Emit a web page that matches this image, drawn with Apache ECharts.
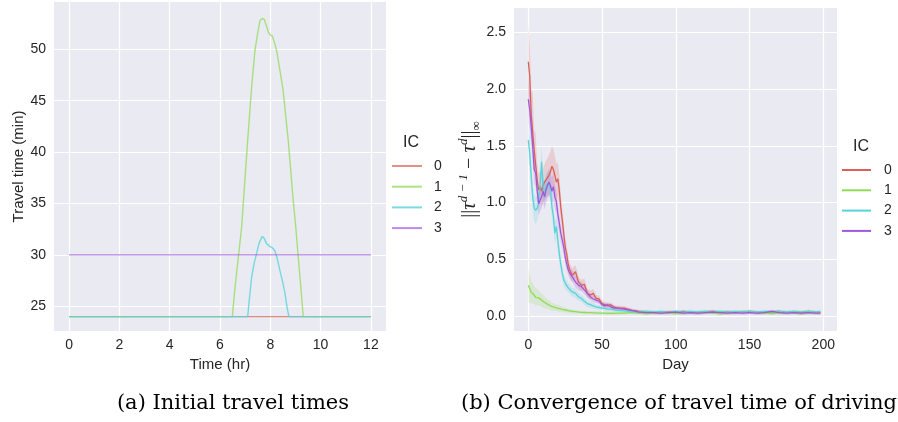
<!DOCTYPE html>
<html>
<head>
<meta charset="utf-8">
<script src="https://cdn.jsdelivr.net/npm/echarts@6/dist/echarts.min.js"></script>
<style>
html,body{margin:0;padding:0;background:#fff;}
#c{width:898px;height:422px;}
</style>
</head>
<body>
<div id="c"></div>
<script>
// ---------- Panel (a): initial travel times ----------
const icLabels = ['0', '1', '2', '3'];
const xTicksA = [0, 2, 4, 6, 8, 10, 12];
const yTicksA = [25, 30, 35, 40, 45, 50];

const ic0TimeA = [0, 12];
const ic0ValA = [24, 24];
const ic1TimeA = [0, 6.49, 6.60, 6.73, 6.86, 6.99, 7.12, 7.26, 7.39, 7.52, 7.59, 7.68, 7.76, 7.83, 7.92, 7.99, 8.08, 8.16, 8.25, 8.38, 8.51, 8.61, 8.71, 8.81, 8.91, 9.01, 9.11, 9.21, 9.31, 12];
const ic1ValA  = [24, 24, 26.9, 29.8, 32.7, 37.3, 41.8, 46.4, 49.9, 51.9, 52.8, 53.0, 52.9, 52.4, 51.7, 51.4, 51.3, 50.7, 49.9, 48.0, 46.0, 43.6, 41.2, 38.3, 35.3, 32.8, 29.8, 27.0, 24, 24];
const ic2TimeA = [0, 7.10, 7.18, 7.26, 7.36, 7.46, 7.56, 7.68, 7.76, 7.85, 7.99, 8.08, 8.18, 8.28, 8.38, 8.48, 8.58, 8.66, 8.74, 12];
const ic2ValA  = [24, 24, 26.0, 27.9, 29.2, 30.2, 31.2, 31.8, 31.6, 31.1, 30.8, 30.7, 30.4, 29.6, 28.5, 27.5, 26.3, 25.0, 24, 24];
const ic3TimeA = [0, 12];
const ic3ValA = [30, 30];

// ---------- Panel (b): convergence ----------
const xTicksB = [0, 50, 100, 150, 200];
const yTicksB = [0, 0.5, 1.0, 1.5, 2.0, 2.5];
const days = [0,1,2,3,4,5,6,7,8,9,10,11,12,13,14,15,16,17,18,19,20,21,22,23,24,25,26,27,28,29,30,
  32,34,36,38,40,42,44,46,48,50,52,54,56,58,60,
  65,70,75,80,85,90,95,100,105,110,115,120,125,130,135,140,145,150,155,160,165,170,175,180,185,190,195,198];

const ic0Mean = [2.24,2.11,1.77,1.77,1.46,1.45,1.20,1.11,1.14,1.10,1.15,1.18,1.20,1.22,1.24,1.27,1.32,1.29,1.24,1.18,1.21,1.11,0.96,0.85,0.73,0.61,0.55,0.46,0.41,0.38,0.36,
  0.39,0.30,0.27,0.28,0.20,0.185,0.20,0.155,0.15,0.11,0.10,0.09,0.10,0.08,0.07,
  0.07,0.05,0.04,0.035,0.03,0.03,0.035,0.03,0.04,0.03,0.03,0.035,0.04,0.03,0.035,0.03,0.035,0.04,0.03,0.03,0.035,0.04,0.03,0.035,0.03,0.04,0.03,0.03];
const ic1Mean = [0.27,0.24,0.21,0.20,0.185,0.165,0.17,0.16,0.15,0.14,0.13,0.12,0.11,0.105,0.10,0.09,0.08,0.08,0.076,0.072,0.07,0.065,0.06,0.058,0.055,0.053,0.05,0.047,0.044,0.042,0.04,
  0.038,0.035,0.032,0.031,0.03,0.03,0.028,0.027,0.026,0.025,0.025,0.024,0.025,0.024,0.025,
  0.025,0.03,0.025,0.02,0.025,0.03,0.025,0.02,0.025,0.03,0.025,0.03,0.025,0.02,0.025,0.03,0.035,0.04,0.03,0.025,0.02,0.025,0.03,0.025,0.02,0.025,0.03,0.025];
const ic2Mean = [1.55,1.43,1.23,1.05,0.95,0.93,0.95,0.99,1.14,1.36,1.14,1.08,1.15,1.17,1.18,1.12,0.96,0.88,0.73,0.79,0.67,0.55,0.46,0.38,0.32,0.29,0.27,0.25,0.24,0.22,0.21,
  0.20,0.17,0.155,0.13,0.11,0.10,0.09,0.08,0.075,0.07,0.065,0.06,0.06,0.055,0.05,
  0.045,0.04,0.035,0.04,0.035,0.04,0.03,0.04,0.035,0.04,0.035,0.04,0.035,0.04,0.035,0.04,0.035,0.04,0.035,0.04,0.035,0.04,0.035,0.04,0.035,0.04,0.035,0.04];
const ic3Mean = [1.91,1.81,1.67,1.49,1.29,1.26,1.11,0.99,1.02,1.05,1.10,1.05,1.11,1.15,1.18,1.15,1.10,1.14,1.05,1.01,0.90,0.82,0.73,0.67,0.61,0.52,0.46,0.41,0.38,0.36,0.35,
  0.30,0.27,0.26,0.23,0.20,0.17,0.15,0.14,0.13,0.10,0.09,0.10,0.08,0.07,0.07,
  0.06,0.05,0.035,0.03,0.03,0.025,0.03,0.035,0.025,0.03,0.025,0.03,0.035,0.03,0.025,0.03,0.025,0.03,0.025,0.03,0.04,0.03,0.025,0.03,0.025,0.03,0.025,0.025];

// confidence half-widths
const ic0Ci = [0.34,0.28,0.22,0.20,0.18,0.16,0.15,0.14,0.14,0.14,0.15,0.16,0.17,0.17,0.18,0.18,0.18,0.18,0.17,0.16,0.15,0.14,0.12,0.10,0.09,0.08,0.07,0.07,0.06,0.06,0.06,
  0.06,0.05,0.05,0.05,0.04,0.04,0.04,0.03,0.03,0.03,0.025,0.025,0.02,0.02,0.02,
  0.018,0.016,0.015,0.015,0.015,0.015,0.015,0.015,0.015,0.015,0.015,0.015,0.015,0.015,0.015,0.015,0.015,0.015,0.015,0.015,0.015,0.015,0.015,0.015,0.015,0.015,0.015,0.015];
const ic1Ci = [0.15,0.12,0.10,0.09,0.08,0.08,0.07,0.07,0.06,0.06,0.06,0.05,0.05,0.04,0.04,0.04,0.035,0.035,0.03,0.03,0.03,0.03,0.025,0.025,0.025,0.02,0.02,0.02,0.02,0.02,0.02,
  0.015,0.015,0.015,0.015,0.015,0.015,0.015,0.015,0.015,0.015,0.015,0.015,0.015,0.015,0.015,
  0.012,0.012,0.012,0.012,0.012,0.012,0.012,0.012,0.012,0.012,0.012,0.012,0.012,0.012,0.012,0.012,0.012,0.012,0.012,0.012,0.012,0.012,0.012,0.012,0.012,0.012,0.012,0.012];
const ic2Ci = [0.16,0.14,0.12,0.12,0.12,0.12,0.11,0.10,0.12,0.14,0.12,0.11,0.10,0.10,0.10,0.10,0.10,0.10,0.10,0.09,0.09,0.08,0.07,0.06,0.05,0.05,0.05,0.04,0.04,0.04,0.04,
  0.04,0.035,0.03,0.03,0.03,0.025,0.025,0.02,0.02,0.02,0.02,0.018,0.018,0.015,0.015,
  0.015,0.015,0.015,0.015,0.015,0.015,0.015,0.015,0.015,0.015,0.015,0.015,0.015,0.015,0.015,0.015,0.015,0.015,0.015,0.015,0.015,0.015,0.015,0.015,0.015,0.015,0.015,0.015];
const ic3Ci = [0.20,0.17,0.15,0.14,0.13,0.12,0.11,0.10,0.10,0.10,0.10,0.11,0.12,0.12,0.12,0.12,0.12,0.12,0.11,0.10,0.10,0.09,0.08,0.07,0.07,0.06,0.06,0.05,0.05,0.05,0.05,
  0.05,0.045,0.04,0.04,0.035,0.03,0.03,0.025,0.025,0.02,0.02,0.02,0.02,0.018,0.018,
  0.015,0.015,0.015,0.015,0.015,0.015,0.015,0.015,0.015,0.015,0.015,0.015,0.015,0.015,0.015,0.015,0.015,0.015,0.015,0.015,0.015,0.015,0.015,0.015,0.015,0.015,0.015,0.015];

// ---------- styling ----------
const colors = ['#db5f57', '#91db57', '#57d3db', '#a157db'];
const lightColors = ['rgba(219,95,87,0.7)', 'rgba(145,219,87,0.75)', 'rgba(87,211,219,0.8)', 'rgba(161,87,219,0.7)'];
const txt = '#262626';
const sans = 'Liberation Sans, Arial, sans-serif';
const serif = 'Liberation Serif, serif';

const pairs = (xs, ys) => xs.map((x, i) => [x, ys[i]]);

const leftData = [[ic0TimeA, ic0ValA], [ic1TimeA, ic1ValA], [ic2TimeA, ic2ValA], [ic3TimeA, ic3ValA]];
const means = [ic0Mean, ic1Mean, ic2Mean, ic3Mean];
const cis = [ic0Ci, ic1Ci, ic2Ci, ic3Ci];

const series = [];
leftData.forEach((d, i) => {
  series.push({
    name: 'a' + icLabels[i], type: 'line', xAxisIndex: 0, yAxisIndex: 0,
    data: pairs(d[0], d[1]), symbol: 'none', silent: true,
    itemStyle: { color: lightColors[i] },
    lineStyle: { color: lightColors[i], width: 1.4 }
  });
});
means.forEach((m, i) => {
  const ci = cis[i];
  series.push({
    name: 'band' + i, type: 'custom', xAxisIndex: 1, yAxisIndex: 1, silent: true,
    data: [[days[0], m[0]]],
    renderItem: function (params, api) {
      const pts = [];
      for (let k = 0; k < days.length; k++) pts.push(api.coord([days[k], m[k] + ci[k]]));
      for (let k = days.length - 1; k >= 0; k--) pts.push(api.coord([days[k], m[k] - ci[k]]));
      return { type: 'polygon', shape: { points: pts }, style: { fill: colors[i], opacity: 0.2 } };
    }
  });
});
means.forEach((m, i) => {
  series.push({
    name: 'b' + icLabels[i], type: 'line', xAxisIndex: 1, yAxisIndex: 1,
    data: pairs(days, m), symbol: 'none', silent: true,
    itemStyle: { color: colors[i] },
    lineStyle: { color: colors[i], width: 1.3 }
  });
});

const axisCommon = {
  type: 'value',
  axisLine: { show: false },
  splitLine: { show: true, lineStyle: { color: '#ffffff', width: 1.2 } },
};

const option = {
  animation: false,
  backgroundColor: '#ffffff',
  textStyle: { fontFamily: sans },
  grid: [
    { left: 54, top: 2, width: 332, height: 329, show: true, backgroundColor: '#eaeaf2', borderWidth: 0, containLabel: false, outerBoundsMode: 'none' },
    { left: 514, top: 8, width: 323, height: 323, show: true, backgroundColor: '#eaeaf2', borderWidth: 0, containLabel: false, outerBoundsMode: 'none' }
  ],
  xAxis: [
    Object.assign({}, axisCommon, {
      gridIndex: 0, min: -0.6, max: 12.6,
      axisTick: { show: false, customValues: xTicksA },
      axisLabel: { customValues: xTicksA, margin: 7, fontSize: 14, color: txt, fontFamily: sans },
      name: 'Time (hr)', nameLocation: 'middle', nameGap: 19,
      nameTextStyle: { fontSize: 15, color: txt, fontFamily: sans }
    }),
    Object.assign({}, axisCommon, {
      gridIndex: 1, min: -9.7, max: 209.3,
      axisTick: { show: false, customValues: xTicksB },
      axisLabel: { customValues: xTicksB, margin: 7, fontSize: 14, color: txt, fontFamily: sans },
      name: 'Day', nameLocation: 'middle', nameGap: 19,
      nameTextStyle: { fontSize: 15, color: txt, fontFamily: sans }
    })
  ],
  yAxis: [
    Object.assign({}, axisCommon, {
      gridIndex: 0, min: 22.6, max: 54.6,
      axisTick: { show: false, customValues: yTicksA },
      axisLabel: { customValues: yTicksA, margin: 8, fontSize: 14, color: txt, fontFamily: sans },
      name: 'Travel time (min)', nameLocation: 'middle', nameGap: 28, nameRotate: 90,
      nameTextStyle: { fontSize: 15, color: txt, fontFamily: sans }
    }),
    Object.assign({}, axisCommon, {
      gridIndex: 1, min: -0.132, max: 2.714,
      axisTick: { show: false, customValues: yTicksB },
      axisLabel: { customValues: yTicksB, margin: 8, fontSize: 14, color: txt, fontFamily: sans,
        formatter: v => Number(v).toFixed(1) },
      name: '{n|||}{it|τ}{sup|d − 1}{n| − }{it|τ}{sup|d}{n|||}{sub|∞}', nameLocation: 'middle', nameGap: 27, nameRotate: 90,
      nameTextStyle: {
        fontSize: 20, color: txt, fontFamily: serif, lineHeight: 26,
        rich: {
          n: { fontSize: 20, fontFamily: serif, color: txt, lineHeight: 26 },
          it: { fontSize: 21, fontStyle: 'italic', fontFamily: serif, color: txt, lineHeight: 26 },
          sup: { fontSize: 13, fontStyle: 'italic', fontFamily: serif, color: txt, verticalAlign: 'top', lineHeight: 14 },
          sub: { fontSize: 13, fontFamily: serif, color: txt, verticalAlign: 'bottom', lineHeight: 12 }
        }
      }
    })
  ],
  legend: [
    {
      left: 387, top: 154, orient: 'vertical', icon: 'rect', itemWidth: 30, itemHeight: 2, itemGap: 6.7,
      selectedMode: false, formatter: n => n.slice(1),
      textStyle: { fontSize: 14, color: txt, lineHeight: 14, padding: [0, 0, 0, 7], fontFamily: sans },
      data: icLabels.map((l, i) => ({ name: 'a' + l, itemStyle: { color: lightColors[i] } }))
    },
    {
      left: 837, top: 158, orient: 'vertical', icon: 'rect', itemWidth: 29, itemHeight: 2, itemGap: 6.3,
      selectedMode: false, formatter: n => n.slice(1),
      textStyle: { fontSize: 14, color: txt, lineHeight: 14, padding: [0, 0, 0, 8], fontFamily: sans },
      data: icLabels.map((l, i) => ({ name: 'b' + l, itemStyle: { color: colors[i] } }))
    }
  ],
  graphic: [
    { type: 'text', x: 411, y: 143, style: { text: 'IC', fontSize: 16, fill: txt, fontFamily: sans, align: 'center', verticalAlign: 'middle' } },
    { type: 'text', x: 861, y: 147, style: { text: 'IC', fontSize: 16, fill: txt, fontFamily: sans, align: 'center', verticalAlign: 'middle' } },
    { type: 'text', x: 233, y: 404, style: { text: '(a) Initial travel times', fontSize: 21, fill: '#000', fontFamily: 'DejaVu Serif, serif', align: 'center', verticalAlign: 'middle' } },
    { type: 'text', x: 679, y: 404, style: { text: '(b) Convergence of travel time of driving', fontSize: 21, fill: '#000', fontFamily: 'DejaVu Serif, serif', align: 'center', verticalAlign: 'middle' } }
  ],
  series: series
};

const chart = echarts.init(document.getElementById('c'), null, { renderer: 'canvas' });
chart.setOption(option);
</script>
</body>
</html>
